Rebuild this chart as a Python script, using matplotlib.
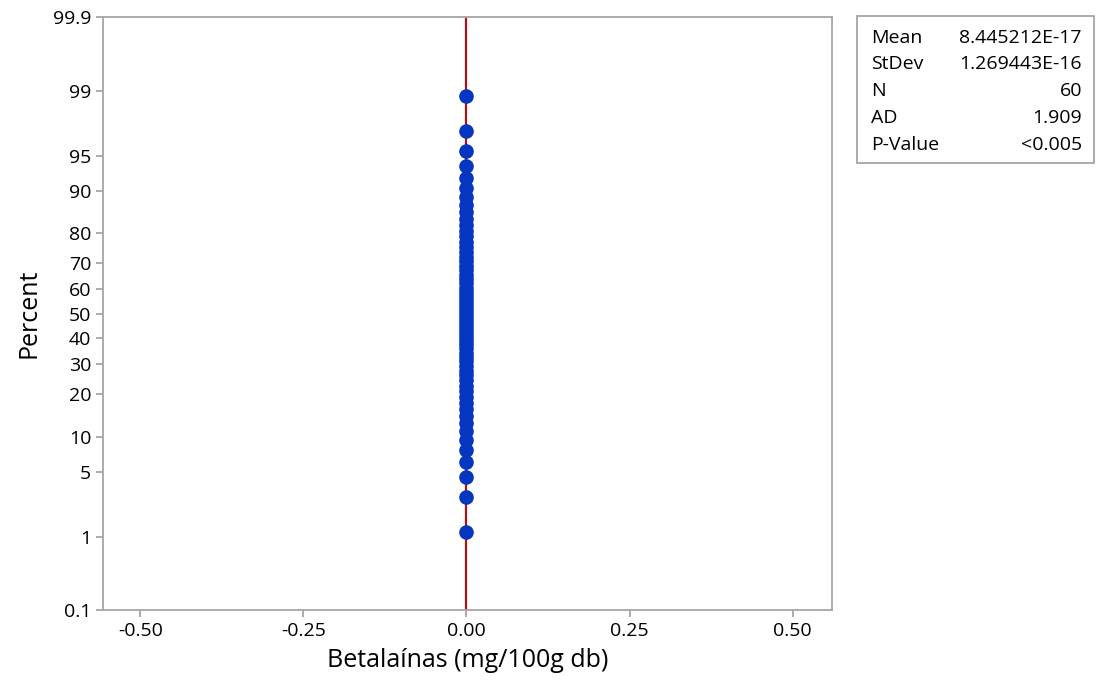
import matplotlib
matplotlib.use("Agg")
import matplotlib.pyplot as plt
import numpy as np
from statistics import NormalDist
from matplotlib.patches import Rectangle

plt.rcParams['font.family'] = ['Open Sans', 'DejaVu Sans']

# data: 60 observations, all zero
values = [0.0] * 60
percent_ticks = [0.1, 1, 5, 10, 20, 30, 40, 50, 60, 70, 80, 90, 95, 99, 99.9]
percent_labels = ["0.1", "1", "5", "10", "20", "30", "40", "50", "60", "70", "80", "90", "95", "99", "99.9"]
x_ticks = [-0.50, -0.25, 0.00, 0.25, 0.50]
stat_names = ["Mean", "StDev", "N", "AD", "P-Value"]
stat_values = ["8.445212E-17", "1.269443E-16", "60", "1.909", "<0.005"]
mean_val = 8.445212E-17

nd = NormalDist()
_ppf = np.vectorize(lambda p: nd.inv_cdf(min(max(p / 100.0, 1e-9), 1 - 1e-9)), otypes=[float])
_cdf = np.vectorize(lambda z: nd.cdf(z) * 100.0, otypes=[float])

def forward(p):
    return _ppf(np.asarray(p, dtype=float))

def inverse(z):
    return _cdf(np.asarray(z, dtype=float))

# median rank plotting positions (Minitab default)
n = len(values)
xs = np.sort(values)
ranks = np.arange(1, n + 1)
pct = (ranks - 0.3) / (n + 0.4) * 100

fig = plt.figure(figsize=(10.96, 6.91), dpi=100)
ax = fig.add_axes([0.094, 0.117, 0.665, 0.858])
ax.set_yscale('function', functions=(forward, inverse))

ax.axvline(mean_val, color='#A8141A', lw=1.6, zorder=2)
ax.plot(xs, pct, 'o', color='#0536C0', ms=9.5, zorder=3)

ax.set_ylim(0.1, 99.9)
ax.set_xlim(-0.557, 0.56)
ax.set_yticks(percent_ticks)
ax.set_yticklabels(percent_labels)
ax.minorticks_off()
ax.set_xticks(x_ticks)
ax.set_xticklabels([f"{t:.2f}" for t in x_ticks])

for s in ax.spines.values():
    s.set_color('#A6A6A6')
    s.set_linewidth(1.3)
ax.tick_params(colors='#A6A6A6', labelcolor='black', labelsize=14, length=5, width=1.3)

ax.set_xlabel("Betalaínas (mg/100g db)", fontsize=18, labelpad=6)
ax.set_ylabel("Percent", fontsize=18, labelpad=8)

# stats box
fig.patches.append(Rectangle((857 / 1096, 1 - 163 / 691), 237 / 1096, 147 / 691,
                             transform=fig.transFigure, fill=False,
                             edgecolor='#A6A6A6', lw=1.3))
row_y = [38, 64, 91, 118, 145]
for name, val, yy in zip(stat_names, stat_values, row_y):
    fig.text(871 / 1096, 1 - yy / 691, name, fontsize=14, va='center', ha='left')
    fig.text(1082 / 1096, 1 - yy / 691, val, fontsize=14, va='center', ha='right')

fig.savefig("out.png", dpi=100)
